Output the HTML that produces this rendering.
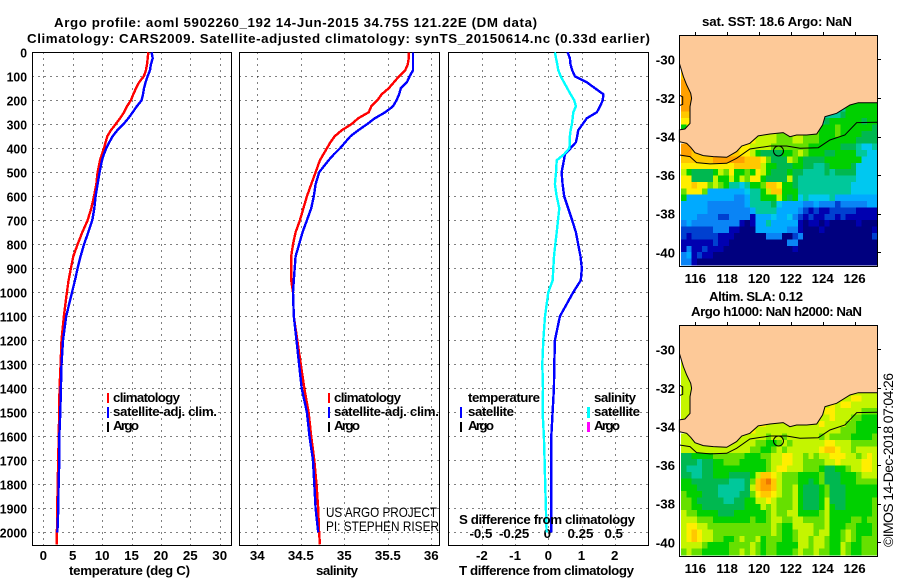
<!DOCTYPE html>
<html lang="en">
<head>
<meta charset="utf-8">
<title>Argo profile 5902260_192</title>
<style>
html,body{margin:0;padding:0;background:#fff;}
svg{display:block;}
text{font-family:"Liberation Sans",sans-serif;font-size:13.3px;font-weight:700;fill:#000;}
text.thin{font-weight:400;font-size:14px;}
</style>
</head>
<body>
<svg id="chart" xmlns="http://www.w3.org/2000/svg" width="900" height="580" viewBox="0 0 900 580">
<rect x="0" y="0" width="900" height="580" fill="#fff"/>
<g id="plots"></g>
<g id="maps"></g>

<text x="54" y="27" textLength="483" lengthAdjust="spacing">Argo profile: aoml 5902260_192 14-Jun-2015 34.75S 121.22E (DM data)</text>
<text x="27" y="43" textLength="623" lengthAdjust="spacing">Climatology: CARS2009. Satellite-adjusted climatology: synTS_20150614.nc (0.33d earlier)</text>

<text x="69" y="575" textLength="121" lengthAdjust="spacing">temperature (deg C)</text>
<text x="316" y="575" textLength="42" lengthAdjust="spacing">salinity</text>
<text x="459" y="575" textLength="175" lengthAdjust="spacing">T difference from climatology</text>
<text x="459" y="524" textLength="176" lengthAdjust="spacing">S difference from climatology</text>

<g>
<rect x="107" y="393" width="2" height="10" fill="#f00"/>
<text x="113" y="402" textLength="67" lengthAdjust="spacing">climatology</text>
<rect x="107" y="407" width="2" height="11" fill="#00f"/>
<text x="113" y="416" textLength="104" lengthAdjust="spacing">satellite-adj. clim.</text>
<rect x="107" y="422" width="2" height="10" fill="#000"/>
<text x="113" y="430" textLength="26" lengthAdjust="spacing">Argo</text>
</g>
<g>
<rect x="328" y="393" width="2" height="10" fill="#f00"/>
<text x="334" y="402" textLength="67" lengthAdjust="spacing">climatology</text>
<rect x="328" y="407" width="2" height="11" fill="#00f"/>
<text x="334" y="416" textLength="105" lengthAdjust="spacing">satellite-adj. clim.</text>
<rect x="328" y="422" width="2" height="10" fill="#000"/>
<text x="334" y="430" textLength="26" lengthAdjust="spacing">Argo</text>
<text class="thin" x="326" y="517" textLength="111" lengthAdjust="spacingAndGlyphs">US ARGO PROJECT</text>
<text class="thin" x="326" y="531" textLength="113" lengthAdjust="spacingAndGlyphs">PI: STEPHEN RISER</text>
</g>
<g>
<text x="468" y="402" textLength="72" lengthAdjust="spacing">temperature</text>
<rect x="460" y="407" width="2" height="11" fill="#00f"/>
<text x="468" y="416" textLength="46" lengthAdjust="spacing">satellite</text>
<rect x="460" y="422" width="2" height="10" fill="#000"/>
<text x="468" y="430" textLength="26" lengthAdjust="spacing">Argo</text>
<text x="594" y="402" textLength="42" lengthAdjust="spacing">salinity</text>
<rect x="587" y="407" width="3" height="11" fill="#0ff"/>
<text x="594" y="416" textLength="46" lengthAdjust="spacing">satellite</text>
<rect x="587" y="422" width="3" height="10" fill="#f0f"/>
<text x="594" y="430" textLength="26" lengthAdjust="spacing">Argo</text>
</g>

<text x="702" y="26" textLength="150" lengthAdjust="spacing">sat. SST: 18.6 Argo: NaN</text>
<text x="709" y="301" textLength="94" lengthAdjust="spacing">Altim. SLA: 0.12</text>
<text x="691" y="316" textLength="171" lengthAdjust="spacing">Argo h1000: NaN h2000: NaN</text>
<text class="thin" transform="translate(893,547) rotate(-90)" textLength="174" lengthAdjust="spacing">©IMOS 14-Dec-2018 07:04:26</text>
</svg>

<script>
// ---- profile data ----
const depths = [0,25,50,75,100,125,150,175,200,225,250,275,300,325,350,375,400,425,450,500,550,600,650,700,750,800,850,900,950,1000,1100,1200,1300,1400,1500,1600,1700,1800,1900,2000,2050];
const tempClim = [17.86,17.75,17.63,17.45,17.1,16.3,15.76,15.3,14.9,14.23,13.72,13.04,12.3,11.5,10.88,10.6,10.32,9.98,9.64,9.24,9.01,8.62,8.16,7.54,6.63,5.84,5.1,4.7,4.31,4.02,3.5,3.1,2.95,2.75,2.72,2.6,2.55,2.44,2.38,2.32,2.27];
const tempSat = [18.42,18.6,18.3,18.15,17.74,17.4,17.12,16.95,16.72,15.9,15.2,14.46,13.6,12.58,11.79,11.22,10.71,10.3,9.98,9.58,9.24,8.9,8.67,8.33,7.65,6.92,6.35,5.84,5.39,4.88,3.9,3.35,3.1,3.0,2.89,2.72,2.72,2.6,2.55,2.4];
const salClim = [35.74,35.74,35.73,35.70,35.63,35.57,35.51,35.43,35.38,35.31,35.28,35.16,35.08,34.97,34.89,34.84,34.8,34.76,34.72,34.67,34.62,34.57,34.53,34.49,34.44,34.41,34.39,34.39,34.39,34.41,34.42,34.46,34.5,34.54,34.59,34.62,34.655,34.68,34.70,34.71,34.72];
const salSat = [35.79,35.79,35.79,35.79,35.75,35.72,35.65,35.63,35.6,35.56,35.47,35.35,35.26,35.16,35.07,35.01,34.95,34.88,34.82,34.71,34.67,34.65,34.62,34.57,34.52,34.48,34.44,34.43,34.42,34.41,34.42,34.45,34.48,34.51,34.57,34.6,34.64,34.655,34.67,34.70];
const tempDiff = [0.58,0.65,0.67,0.72,0.8,1.16,1.41,1.66,1.64,1.56,1.46,1.16,1.03,0.9,0.87,0.83,0.67,0.5,0.47,0.40,0.43,0.48,0.6,0.72,0.83,0.9,0.97,1.01,0.98,0.75,0.35,0.2,0.18,0.17,0.13,0.09,0.09,0.09,0.09,0.09];
const salDiff = [0.05,0.058,0.068,0.075,0.093,0.118,0.143,0.168,0.195,0.208,0.188,0.183,0.178,0.168,0.163,0.163,0.158,0.118,0.063,0.058,0.05,0.063,0.083,0.073,0.063,0.053,0.043,0.038,0.033,0,-0.025,-0.038,-0.045,-0.04,-0.043,-0.033,-0.028,-0.023,-0.018,-0.013];

// ---- tick labels ----
const depthTicks = [0,100,200,300,400,500,600,700,800,900,1000,1100,1200,1300,1400,1500,1600,1700,1800,1900,2000];
const tempTicks = [0,5,10,15,20,25,30];
const salTicks = [34,34.5,35,35.5,36];
const tDiffTicks = [-2,-1,0,1,2];
const sDiffTicks = [-0.5,-0.25,0,0.25,0.5];
const lonTicks = [116,118,120,122,124,126];
const latTicks = [-30,-32,-34,-36,-38,-40];

// ---- map data: each character is a colour level, '.' is no data; spaces only group columns ----
const levelColors = {'0':'#00007f','1':'#0000b0','2':'#0040d0','3':'#0a84f5','4':'#00aaff','5':'#00c8f0','6':'#00c89b','7':'#00b850','8':'#00d000','9':'#66e000','a':'#c4f500','b':'#ffee00','c':'#ffc800','d':'#ffa000','e':'#f07800'};
const sstRows = [
"","","","","",
"cc",
"ccc",
"dcc",
"ddc",
"ddb",
"ddc....... .......... .......... 8888888",
"ddc....... .......... .......666 6888888",
"ccb....... .......... ......6666 7888888",
"bb........ .......... .....66788 8888788",
"8a........ .......... ....888889 8888887",
".......... ..bbaaaa99 9aa9998889 8888777",
".......... bbbbaaaa99 9aa9998888 8887777",
"ddc......b bbbaaaa999 9999888888 7776556",
"ddccb....c cbba877778 89a9888778 8886655",
"ccccccdddd ddcccb9777 a987777888 8888555",
"bbbbbbbbbb ccccca8877 7887766788 8875555",
"a877778a9b 8898ba8777 8776666767 7775555",
"bb7777a88a 8a9bb87777 a766666666 6665555",
"bbcbb9a986 656889ccb8 8766666666 6655555",
"9bbb944444 445668acc8 8866666666 6655555",
"8444444444 33466888a8 7856555564 4444444",
"4444433333 3346666754 4443343332 3333344",
"4444433333 3334666644 4432121122 2221111",
"4443333223 3331444544 5321211221 2111111",
"3433333333 3101446444 4410110100 0001000",
"2222223331 1000444444 3310001000 0000001",
"2122222111 0000003330 0230000000 0000002",
"1111112110 0000000000 3300000000 0000000",
"1311211100 0000000000 0100000000 0000000",
"3412110000 0000000000 0000000000 0000000",
"3310000000 0000000000 0000000000 0000000"
];
const slaRows = [
"","","","","",
"aa",
"aaa",
"aaa",
"aaa",
"aaa",
"aaa....... .......... .......... aaaaaaa",
"aaa....... .......... .......aaa aabbaaa",
"aaa....... .......... ......aaba bbaaaaa",
"aa........ .......... .....aabba aaaa999",
"aa........ .......... ....aaaaba aa99888",
".......... ..bbbbaaaa aaaaaabaaa a998888",
".......... bbbbaaaaaa aaaaaaaaaa 9998888",
"aaa......a aaaaaa9aa9 aaaaaa9a99 9988889",
"aaaaa....a aaaa99889a 9aaaaaabba aa99999",
"aaaaaaaaaa aaa99889a9 aaaaaabccb aa9aaaa",
"7788889999 9988899aab baa9a9aabb baa9aba",
"7776778899 9888889aab baa9999aab aaaabba",
"7666778888 8888889abb aaa9998778 89aabba",
"7766778887 7778accba9 9988889777 8889aaa",
"8877777776 6679cdeca9 9988789777 8889999",
"8887777666 667acddca9 9a87778977 7888888",
"9888777666 6779bccba9 9a87778977 7888888",
"9987777766 7788aaba99 9a87778a77 7888889",
"9988777777 77888a9a99 9a87778a87 7888889",
"a998888777 8888889a99 aa88889a88 8888889",
"aaa9998888 8889889aa9 9aa9999a88 8899899",
"abbaa99999 9999999a98 8aaaa99a88 8998889",
"abcbaa9999 9999999a98 89aaa9aa88 9a98889",
"abcbaa9988 9a99a89998 89aa9aa988 9a98999",
"aaaa988889 999a989988 88aa9aa988 a988999",
"9a99888889 9a9a989988 89a99a9988 a988999"
];

// ---- geography (lon, lat) ----
const landLon = [115,115,115.25,115.46,115.71,115.77,115.67,115.67,115.35,115,115,115.46,115.71,115.98,116.5,117.13,117.97,118.59,118.91,119.43,119.95,120.69,121.52,121.94,122.36,122.99,123.62,123.99,124.14,124.87,125.71,126.23,127.43,127.43];
const landLat = [-28.74,-30.21,-30.9,-31.33,-31.76,-32.02,-32.45,-33.32,-33.61,-33.66,-34.27,-34.35,-34.56,-34.84,-34.99,-35.04,-35.08,-34.78,-34.49,-34.35,-33.97,-33.87,-33.80,-34.01,-33.92,-33.92,-33.87,-33.40,-32.97,-32.80,-32.37,-32.25,-32.25,-28.74];
const isobathLon = [115,115.67,116.08,116.92,117.97,118.59,119.43,120.69,121.73,122.57,123.72,124.45,125.39,126.13,127.43];
const isobathLat = [-34.96,-35.04,-35.35,-35.42,-35.39,-35.13,-34.65,-34.49,-34.49,-34.61,-34.58,-34.18,-33.92,-33.28,-33.26];
const bayLon = [115,115.21,115.21,115];
const bayLat = [-31.86,-31.95,-32.33,-32.4];
const floatLon = 121.22;
const floatLat = -34.75;

// ---- axis functions ----
const NS = 'http://www.w3.org/2000/svg';
const yDepth = d => 52.3 + 0.24 * d;
const xTemp = v => 43.3 + 5.88 * v;
const xSal = v => 257.3 + 87 * (v - 34);
const xTDiff = v => 548.3 + 33.2 * v;
const xSDiff = v => 548.3 + 132.8 * v;
const xLon = v => 695.3 + 15.93 * (v - 116);
const yLat = (v, off) => 59.3 - 19.3 * (v + 30) + off;

const plots = document.getElementById('plots');
const maps = document.getElementById('maps');
const px = v => Math.round(v) + 0.5;

function makeLine(parent, x1, y1, x2, y2, dash) {
  const l = document.createElementNS(NS, 'line');
  l.setAttribute('x1', x1);
  l.setAttribute('y1', y1);
  l.setAttribute('x2', x2);
  l.setAttribute('y2', y2);
  l.setAttribute('stroke', '#000');
  l.setAttribute('stroke-width', '1');
  l.setAttribute('shape-rendering', 'crispEdges');
  if (dash) l.setAttribute('stroke-dasharray', dash);
  parent.appendChild(l);
  return l;
}
function makeText(parent, x, y, str, anchor) {
  const t = document.createElementNS(NS, 'text');
  t.setAttribute('x', x);
  t.setAttribute('y', y);
  t.setAttribute('text-anchor', anchor);
  t.textContent = str;
  parent.appendChild(t);
  return t;
}
function drawProfile(parent, values, xf, color, label) {
  const pts = values.map((v, i) => xf(v).toFixed(1) + ',' + yDepth(depths[i]).toFixed(1)).join(' ');
  const p = document.createElementNS(NS, 'polyline');
  p.setAttribute('points', pts);
  p.setAttribute('fill', 'none');
  p.setAttribute('stroke', color);
  p.setAttribute('stroke-width', '2.4');
  p.setAttribute('shape-rendering', 'crispEdges');
  
  
  parent.appendChild(p);
}

function drawPanel(name, left, right, xf, ticks, fmt) {
  const top = 52.5, bottom = 545.5;
  const g = document.createElementNS(NS, 'g');
  
  
  plots.appendChild(g);
  depthTicks.forEach(d => {
    if (d === 0) return;
    const l = makeLine(g, left, px(yDepth(d)), right, px(yDepth(d)), '1 5');
    
    
  });
  ticks.forEach(v => {
    const l = makeLine(g, px(xf(v)), top, px(xf(v)), bottom, '1 5');
    
    
    const t = makeText(g, xf(v), 560, fmt(v), 'middle');
    
    
  });
  const r = document.createElementNS(NS, 'rect');
  r.setAttribute('x', left);
  r.setAttribute('y', top);
  r.setAttribute('width', right - left);
  r.setAttribute('height', bottom - top);
  r.setAttribute('fill', 'none');
  r.setAttribute('stroke', '#000');
  r.setAttribute('stroke-width', '1');
  r.setAttribute('shape-rendering', 'crispEdges');
  
  
  g.appendChild(r);
  return g;
}

const p1 = drawPanel('temperature-panel', 32.5, 231.5, xTemp, tempTicks, String);
const p2 = drawPanel('salinity-panel', 239.5, 439.5, xSal, salTicks, String);
const p3 = drawPanel('difference-panel', 448.5, 648.5, xTDiff, tDiffTicks, String);

depthTicks.forEach(d => {
  const label = String(d);
  const t = makeText(plots, 27, yDepth(d) + 5, label, 'end');
  t.setAttribute('textLength', (label.length * 6.8).toFixed(1));
  t.setAttribute('lengthAdjust', 'spacingAndGlyphs');
  
  
});
sDiffTicks.forEach(v => {
  const t = makeText(p3, xSDiff(v) - 1, 538, String(v), 'middle');
  
  
});

drawProfile(p1, tempClim, xTemp, '#f00', 'temperature-climatology-line');
drawProfile(p1, tempSat, xTemp, '#00f', 'temperature-satellite-line');
drawProfile(p2, salClim, xSal, '#f00', 'salinity-climatology-line');
drawProfile(p2, salSat, xSal, '#00f', 'salinity-satellite-line');
drawProfile(p3, tempDiff, xTDiff, '#00f', 'temperature-difference-line');
drawProfile(p3, salDiff, xSDiff, '#0ff', 'salinity-difference-line');

// ---- maps ----
const gridLon0 = 115.1, gridLonStep = 1 / 3, gridLat0 = -28.74, gridLatStep = 0.331;
function pathFrom(lons, lats, off, close) {
  return lons.map((v, i) => (i ? 'L' : 'M') + xLon(v).toFixed(1) + ' ' + yLat(lats[i], off).toFixed(1)).join(' ') + (close ? ' Z' : '');
}
function drawMap(name, rows, off) {
  const g = document.createElementNS(NS, 'g');
  
  
  maps.appendChild(g);

  rows.forEach((rawRow, i) => {
    const row = rawRow.replace(/ /g, '');
    for (let c = 0; c < row.length; c++) {
      const color = levelColors[row[c]];
      if (!color) continue;
      const x0 = xLon(gridLon0 + c * gridLonStep);
      const x1 = xLon(gridLon0 + (c + 1) * gridLonStep);
      const y0 = yLat(gridLat0 - i * gridLatStep, off);
      const y1 = yLat(gridLat0 - (i + 1) * gridLatStep, off);
      const cell = document.createElementNS(NS, 'rect');
      cell.setAttribute('x', x0.toFixed(2));
      cell.setAttribute('y', y0.toFixed(2));
      cell.setAttribute('width', (x1 - x0 + 0.4).toFixed(2));
      cell.setAttribute('height', (y1 - y0 + 0.4).toFixed(2));
      cell.setAttribute('fill', color);
      cell.setAttribute('shape-rendering', 'crispEdges');
      
      
      g.appendChild(cell);
    }
  });

  const land = document.createElementNS(NS, 'path');
  land.setAttribute('d', pathFrom(landLon, landLat, off, true));
  land.setAttribute('fill', '#fdc998');
  
  
  g.appendChild(land);

  const coast = document.createElementNS(NS, 'path');
  coast.setAttribute('d', pathFrom(landLon.slice(1, -1), landLat.slice(1, -1), off, false));
  coast.setAttribute('fill', 'none');
  coast.setAttribute('stroke', '#000');
  coast.setAttribute('stroke-width', '1');
  
  
  g.appendChild(coast);

  const iso = document.createElementNS(NS, 'path');
  iso.setAttribute('d', pathFrom(isobathLon, isobathLat, off, false));
  iso.setAttribute('fill', 'none');
  iso.setAttribute('stroke', '#000');
  iso.setAttribute('stroke-width', '1');
  
  
  g.appendChild(iso);

  const bay = document.createElementNS(NS, 'path');
  bay.setAttribute('d', pathFrom(bayLon, bayLat, off, false));
  bay.setAttribute('fill', 'none');
  bay.setAttribute('stroke', '#000');
  bay.setAttribute('stroke-width', '1');
  
  
  g.appendChild(bay);

  const marker = document.createElementNS(NS, 'circle');
  marker.setAttribute('cx', xLon(floatLon).toFixed(1));
  marker.setAttribute('cy', yLat(floatLat, off).toFixed(1));
  marker.setAttribute('r', '5');
  marker.setAttribute('fill', 'none');
  marker.setAttribute('stroke', '#000');
  marker.setAttribute('stroke-width', '1');
  
  
  g.appendChild(marker);

  const frame = document.createElementNS(NS, 'rect');
  frame.setAttribute('x', 679.5);
  frame.setAttribute('y', 35.5 + off);
  frame.setAttribute('width', 198);
  frame.setAttribute('height', 231);
  frame.setAttribute('fill', 'none');
  frame.setAttribute('stroke', '#000');
  frame.setAttribute('stroke-width', '1');
  frame.setAttribute('shape-rendering', 'crispEdges');
  
  
  g.appendChild(frame);

  lonTicks.forEach(v => {
    const l = makeLine(g, px(xLon(v)), 32 + off, px(xLon(v)), 35 + off);
    
    
    const t = makeText(g, xLon(v), 283 + off, String(v), 'middle');
    
    
  });
  latTicks.forEach(v => {
    const l = makeLine(g, 878, px(yLat(v, off)), 881, px(yLat(v, off)));
    
    
    const t = makeText(g, 675, yLat(v, off) + 5, String(v), 'end');
    
    
  });
}
drawMap('sst-map', sstRows, 0);
drawMap('sla-map', slaRows, 290);
</script>
</body>
</html>
